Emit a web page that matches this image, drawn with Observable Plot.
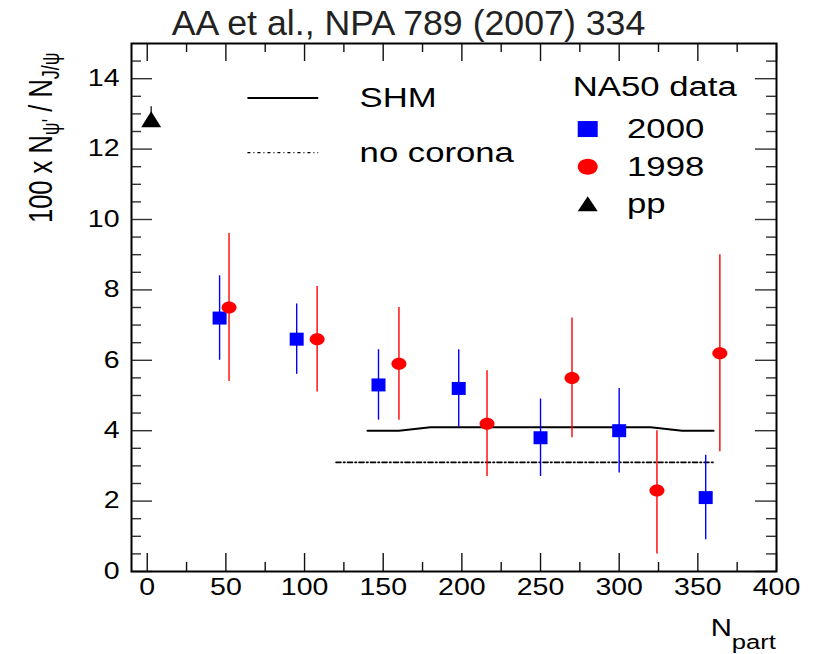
<!DOCTYPE html>
<html><head><meta charset="utf-8">
<script src="https://cdn.jsdelivr.net/npm/d3@7"></script>
<script src="https://cdn.jsdelivr.net/npm/@observablehq/plot@0.6"></script>
<style>body{margin:0;background:#fff}#chart svg{display:block}</style>
</head><body><div id="chart"></div>
<script>
// ---- data ----
const npart2000 = [46, 95, 147, 198, 250, 300, 355];
const ratio2000 = [7.2, 6.6, 5.3, 5.2, 3.8, 4.0, 2.1];
const lo2000    = [6.0, 5.6, 4.3, 4.1, 2.7, 2.8, 0.9];
const hi2000    = [8.4, 7.6, 6.3, 6.3, 4.9, 5.2, 3.3];

const npart1998 = [52, 108, 160, 216, 270, 324, 364];
const ratio1998 = [7.5, 6.6, 5.9, 4.2, 5.5, 2.3, 6.2];
const lo1998    = [5.4, 5.1, 4.3, 2.7, 3.8, 0.5, 3.4];
const hi1998    = [9.6, 8.1, 7.5, 5.7, 7.2, 4.0, 9.0];

const npartPP = [2.5];
const ratioPP = [12.85];
const loPP    = [12.65];
const hiPP    = [13.2];

const shmX = [140, 160, 180, 320, 340, 360];
const shmY = [4.0, 4.0, 4.1, 4.1, 4.0, 4.0];
const noCoronaX = [120, 360];
const noCoronaY = [3.1, 3.1];

const xTicks = [0, 50, 100, 150, 200, 250, 300, 350, 400];
const xTickLabels = ["0", "50", "100", "150", "200", "250", "300", "350", "400"];
const xMinorTicks = [25, 75, 125, 175, 225, 275, 325, 375];
const yTicks = [0, 2, 4, 6, 8, 10, 12, 14];
const yTickLabels = ["0", "2", "4", "6", "8", "10", "12", "14"];
const yMinorTicks = [0.5, 1, 1.5, 2.5, 3, 3.5, 4.5, 5, 5.5, 6.5, 7, 7.5, 8.5, 9, 9.5, 10.5, 11, 11.5, 12.5, 13, 13.5, 14.5];

const titleText = "AA et al., NPA 789 (2007) 334";
const legendLineLabels = ["SHM", "no corona"];
const legendHeader = "NA50 data";
const legendSymLabels = ["2000", "1998", "pp"];

// ---- legend layout (data coordinates, as in a ROOT legend box) ----
const legLineX1 = 64, legLineX2 = 109, legLineTextX = 135;
const legLineRows = [13.45, 11.9];
const legHeaderX = 270.5, legHeaderY = 13.75;
const legSymX = 280, legSymTextX = 305;
const legSymRows = [12.57, 11.5, 10.45];

// ---- tables ----
const s2000 = npart2000.map((x, i) => ({x, y: ratio2000[i], lo: lo2000[i], hi: hi2000[i]}));
const s1998 = npart1998.map((x, i) => ({x, y: ratio1998[i], lo: lo1998[i], hi: hi1998[i]}));
const sPP = npartPP.map((x, i) => ({x, y: ratioPP[i], lo: loPP[i], hi: hiPP[i]}));
const shm = shmX.map((x, i) => ({x, y: shmY[i]}));
const noCorona = noCoronaX.map((x, i) => ({x, y: noCoronaY[i]}));

// ---- custom marker shapes ----
const rectSym = (w, h) => ({draw(c) { c.moveTo(-w/2, -h/2); c.lineTo(w/2, -h/2); c.lineTo(w/2, h/2); c.lineTo(-w/2, h/2); c.closePath(); }});
const ellSym = (w, h) => ({draw(c) {
  const rx = w/2, ry = h/2, k = 0.5523;
  c.moveTo(rx, 0);
  c.bezierCurveTo(rx, ry*k, rx*k, ry, 0, ry);
  c.bezierCurveTo(-rx*k, ry, -rx, ry*k, -rx, 0);
  c.bezierCurveTo(-rx, -ry*k, -rx*k, -ry, 0, -ry);
  c.bezierCurveTo(rx*k, -ry, rx, -ry*k, rx, 0);
  c.closePath();
}});
const triSym = (w, h) => ({draw(c) { c.moveTo(0, -h/2); c.lineTo(w/2, h/2); c.lineTo(-w/2, h/2); c.closePath(); }});

const W = 816, H = 654, mL = 131, mR = 40, mT = 43, mB = 83;
const fw = W - mL - mR, fh = H - mT - mB;
const BLUE = "#0000ff", RED = "#ff0000";
const dashDot = "5,2.5,1.5,2.5";

const plot = Plot.plot({
  width: W, height: H,
  marginLeft: mL, marginRight: mR, marginTop: mT, marginBottom: mB,
  x: {domain: [-10, 400], label: null},
  y: {domain: [0, 15], label: null},
  style: {fontFamily: "'Liberation Sans', Arial, sans-serif", fontSize: "23px", color: "black", background: "white"},
  marks: [
    // ticks (inward, mirrored on all four sides)
    Plot.ruleX(xTicks, {x: d => d, insetTop: fh - 18, stroke: "#111", strokeWidth: 1.4}),
    Plot.ruleX(xTicks, {x: d => d, insetBottom: fh - 18, stroke: "#111", strokeWidth: 1.4}),
    Plot.ruleX(xMinorTicks, {x: d => d, insetTop: fh - 9, stroke: "#111", strokeWidth: 1.4}),
    Plot.ruleX(xMinorTicks, {x: d => d, insetBottom: fh - 9, stroke: "#111", strokeWidth: 1.4}),
    Plot.ruleY(yTicks, {y: d => d, insetRight: fw - 21, stroke: "#333", strokeWidth: 1.4}),
    Plot.ruleY(yTicks, {y: d => d, insetLeft: fw - 21, stroke: "#333", strokeWidth: 1.4}),
    Plot.ruleY(yMinorTicks, {y: d => d, insetRight: fw - 10, stroke: "#333", strokeWidth: 1.4}),
    Plot.ruleY(yMinorTicks, {y: d => d, insetLeft: fw - 10, stroke: "#333", strokeWidth: 1.4}),
    Plot.axisX(xTicks, {tickSize: 0, tickPadding: 7, fontSize: 23, fill: "black", tickFormat: d => xTickLabels[xTicks.indexOf(d)]}),
    Plot.axisY(yTicks, {tickSize: 0, tickPadding: 12, fontSize: 23, fill: "black", tickFormat: d => yTickLabels[yTicks.indexOf(d)]}),

    // model curves
    Plot.line(shm, {x: "x", y: "y", stroke: "black", strokeWidth: 2, curve: "linear"}),
    Plot.line(noCorona, {x: "x", y: "y", stroke: "black", strokeWidth: 1.6, strokeDasharray: dashDot}),

    // error bars
    Plot.ruleX(s2000, {x: "x", y1: "lo", y2: "hi", stroke: BLUE, strokeWidth: 1.4}),
    Plot.ruleX(s1998, {x: "x", y1: "lo", y2: "hi", stroke: RED, strokeWidth: 1.4}),
    Plot.ruleX(sPP, {x: "x", y1: "lo", y2: "hi", stroke: "black", strokeWidth: 1.2}),

    // markers
    Plot.dot(s2000, {x: "x", y: "y", symbol: rectSym(14, 13), fill: BLUE, stroke: "none"}),
    Plot.dot(s1998, {x: "x", y: "y", symbol: ellSym(15, 12), fill: RED, stroke: "none"}),
    Plot.dot(sPP, {x: "x", y: "y", symbol: triSym(20, 16), fill: "black", stroke: "none"}),

    // legend
    Plot.ruleY([legLineRows[0]], {y: d => d, x1: legLineX1, x2: legLineX2, stroke: "black", strokeWidth: 2}),
    Plot.ruleY([legLineRows[1]], {y: d => d, x1: legLineX1, x2: legLineX2, stroke: "black", strokeWidth: 1.4, strokeDasharray: "3,3,1,3"}),
    Plot.text(legendLineLabels, {x: legLineTextX, y: (d, i) => legLineRows[i], text: d => d, textAnchor: "start", lineAnchor: "middle", fontSize: 28, fill: "black"}),
    Plot.text([legendHeader], {x: legHeaderX, y: legHeaderY, text: d => d, textAnchor: "start", lineAnchor: "middle", fontSize: 28, fill: "black"}),
    Plot.text(legendSymLabels, {x: legSymTextX, y: (d, i) => legSymRows[i], text: d => d, textAnchor: "start", lineAnchor: "middle", fontSize: 28, fill: "black"}),
    Plot.dot([legSymRows[0]], {x: legSymX, y: d => d, symbol: rectSym(20, 16), fill: BLUE, stroke: "none"}),
    Plot.dot([legSymRows[1]], {x: legSymX, y: d => d, symbol: ellSym(20, 16), fill: RED, stroke: "none"}),
    Plot.dot([legSymRows[2]], {x: legSymX, y: d => d, symbol: triSym(20, 15), fill: "black", stroke: "none"}),

    Plot.frame({stroke: "black", strokeWidth: 2})
  ]
});

document.getElementById("chart").append(plot);
const svg = d3.select(plot);

// ROOT-like horizontally wide glyphs: scale each text about its anchor point
function stretchEl(el, k) {
  const tr = el.getAttribute("transform");
  if (tr) {
    el.setAttribute("transform", tr + ` scale(${k},1)`);
  } else {
    const x = +el.getAttribute("x") || 0;
    el.setAttribute("transform", `translate(${x},0) scale(${k},1) translate(${-x},0)`);
  }
}
// all Plot-generated text: tick labels and legend entries
const legendSet = new Set([...legendLineLabels, legendHeader, ...legendSymLabels]);
svg.selectAll("text").each(function() {
  const s = this.textContent;
  stretchEl(this, legendSet.has(s) ? 1.24 : 1.24);
});

const ff = "'Liberation Sans', Arial, sans-serif";
// title
svg.append("text").attr("x", 408.5).attr("y", 35).attr("text-anchor", "middle")
  .attr("transform", "translate(408.5,0) scale(1.02,1) translate(-408.5,0)")
  .attr("font-family", ff).attr("font-size", 35).attr("fill", "#222").text(titleText);

// y-axis title (rotated)
const yl = svg.append("text")
  .attr("transform", "translate(52,223) scale(1.33,1) rotate(-90)")
  .attr("text-anchor", "start").attr("font-family", ff).attr("font-size", 25.5).attr("fill", "black");
yl.append("tspan").text("100 x N");
yl.append("tspan").attr("font-size", 18).attr("dy", 5).text("ψ'");
yl.append("tspan").attr("dy", -5).text(" / N");
yl.append("tspan").attr("font-size", 18).attr("dy", 5).text("J/ψ");

// x-axis title
const xl = svg.append("text")
  .attr("transform", "translate(776,636) scale(1.22,1)")
  .attr("text-anchor", "end").attr("font-family", ff).attr("font-size", 24).attr("fill", "black");
xl.append("tspan").text("N");
xl.append("tspan").attr("font-size", 21).attr("dy", 13).text("part");
</script>
</body></html>
